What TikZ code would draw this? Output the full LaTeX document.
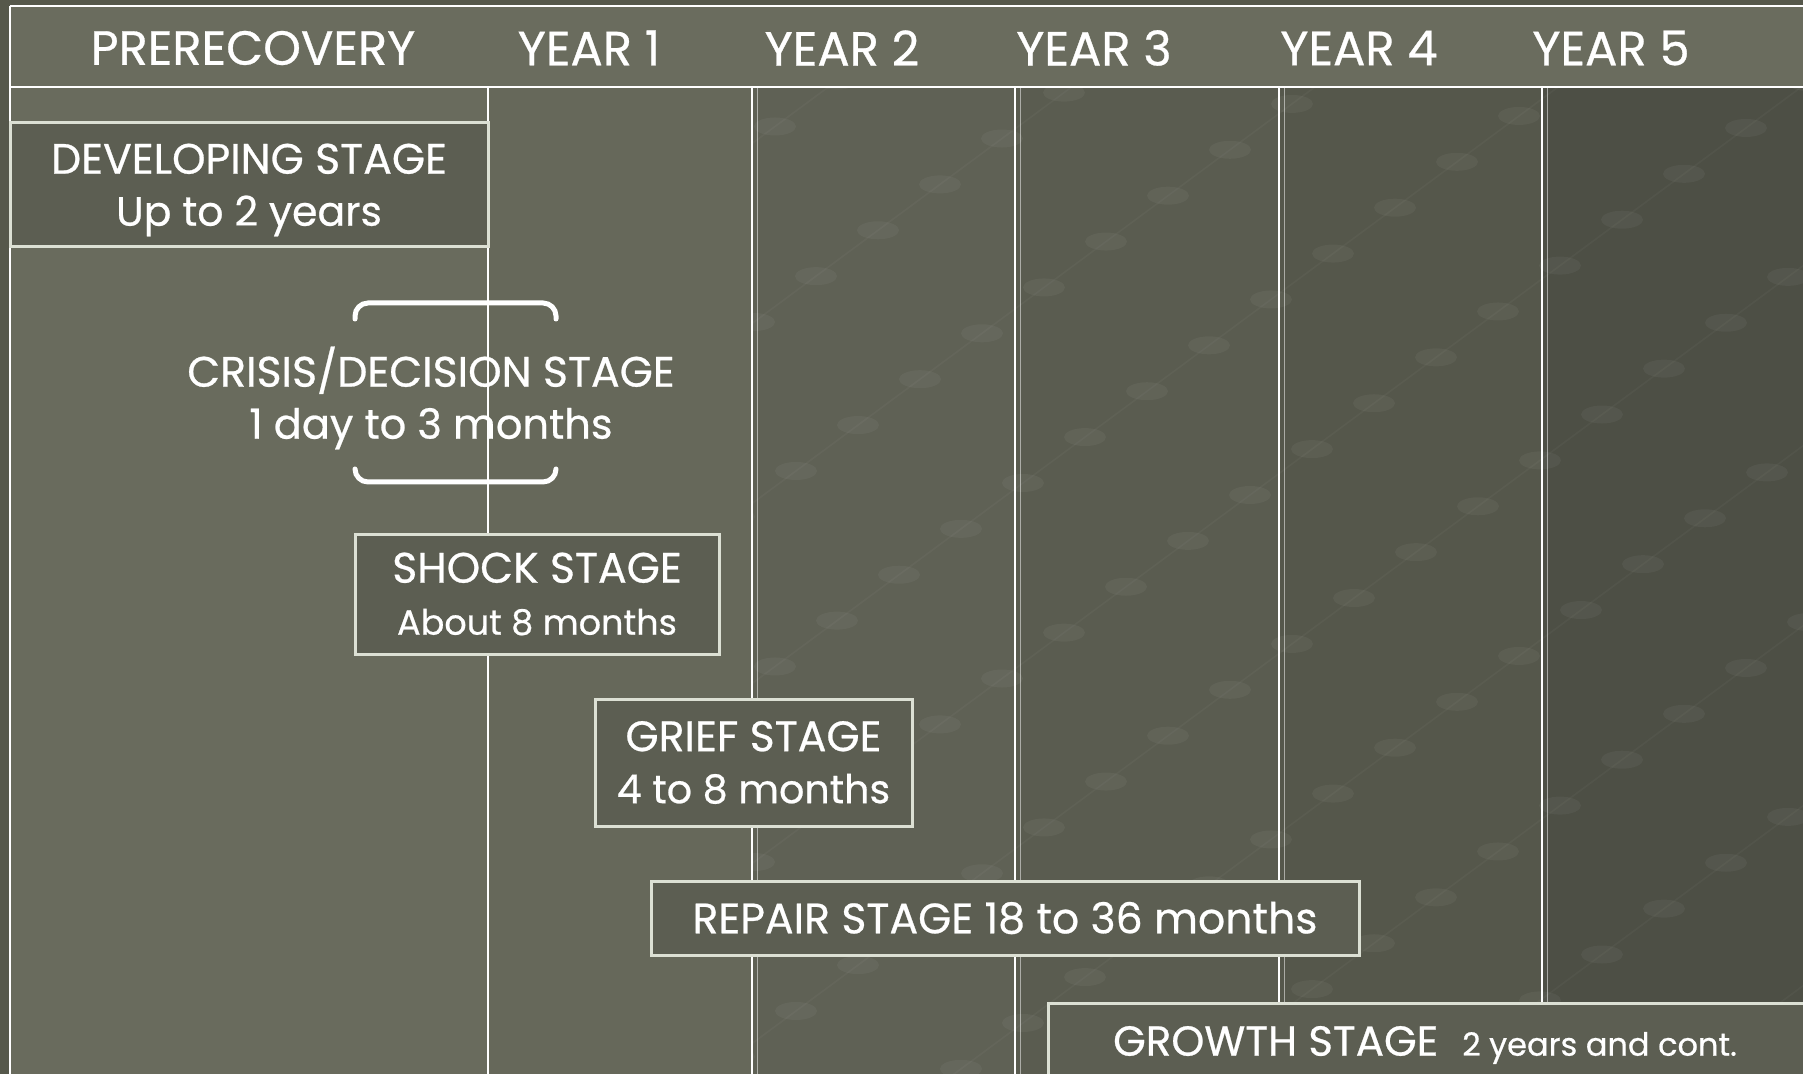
\documentclass[tikz,border=0pt]{standalone}
\usepackage{fontspec}
\setmainfont{Poppins}[UprightFeatures={FakeBold=0.6}]
\definecolor{outerbg}{HTML}{56584B}
\definecolor{headbg}{HTML}{6A6C5E}
\definecolor{precol}{HTML}{696B5D}
\definecolor{boxbg}{HTML}{5C5E52}
\definecolor{boxline}{HTML}{DCE0D4}
\definecolor{colA}{HTML}{66685A}
\definecolor{colB}{HTML}{5F6155}
\definecolor{colC}{HTML}{5A5C50}
\definecolor{colD}{HTML}{55574B}
\definecolor{colE}{HTML}{4D4F45}
\begin{document}
\begin{tikzpicture}[x=0.5pt,y=-0.5pt,
  stagebox/.style={draw=boxline, line width=1.5pt, fill=boxbg, text=white, align=center, inner sep=0pt, font=\fontsize{21.3}{26}\selectfont},
  stagetxt/.style={text=white, align=center, font=\fontsize{21.3}{26}\selectfont},
  yearlbl/.style={text=white, font=\fontsize{24}{28}\selectfont},
  colline/.style={white, line width=1.2pt},
  bracket/.style={white, line width=2.5pt, rounded corners=6.5pt, line cap=round}]
\useasboundingbox (0,0) rectangle (1803,1074);
\fill[outerbg] (0,0) rectangle (1803,1074);
\fill[headbg] (10,6) rectangle (1803,87);
\fill[precol] (10,87) rectangle (488,1074);
\foreach \xa/\xb/\cc in {488/752/colA,752/1015/colB,1015/1279/colC,1279/1542/colD,1542/1803/colE}
  \fill[\cc] (\xa,87) rectangle (\xb,1074);
\begin{scope}
\clip (752,87) rectangle (1803,1074);
\foreach \c [count=\i] in {700,880,...,3100} {
  \draw[white, opacity=.03, line width=.8pt] (1850,\c-1369) -- (600,\c-444);
  \foreach \k in {0,...,19}
    \fill[white, opacity=.045] ({1850-62*\k-mod(\i,3)*21},{\c-0.74*(1850-62*\k-mod(\i,3)*21)}) ellipse [x radius=21, y radius=9];
}
\end{scope}
\draw[colline] (10,6) -- (1803,6);
\draw[colline] (10,6) -- (10,1074);
\draw[colline] (10,87) -- (1803,87);
\draw[colline] (488,87) -- (488,1074);
\foreach \x in {752,1015,1279,1542} {
  \draw[colline] (\x,87) -- (\x,1074);
  \draw[white, opacity=.5, line width=.5pt] (\x+5,87) -- (\x+5,1074);
}
\node[yearlbl] (hpre) at (253,48) {PRERECOVERY};
\node[yearlbl] (hyear1) at (589,48) {YEAR 1};
\node[yearlbl] (hyear2) at (842,48) {YEAR 2};
\node[yearlbl] (hyear3) at (1094,48) {YEAR 3};
\node[yearlbl] (hyear4) at (1359,48) {YEAR 4};
\node[yearlbl] (hyear5) at (1611,48) {YEAR 5};
\node[stagebox, minimum width=239pt, minimum height=62pt] (dev) at (249,185) {};
\node[stagetxt] (devtxt) at (249,190) {DEVELOPING STAGE\\{\fontsize{20.5}{26}\selectfont Up to 2 years}};
\draw[bracket] (355,319) -- (355,303) -- (556,303) -- (556,319);
\draw[bracket] (355,469) -- (355,482) -- (556,482) -- (556,469);
\node[stagetxt] (crisis) at (431,398) {CRISIS/DECISION STAGE\\{\fontsize{20.8}{26}\selectfont 1 day to 3 months}};
\node[stagebox, minimum width=182pt, minimum height=60pt] (shock) at (537,594) {SHOCK STAGE\\{\fontsize{17.5}{20}\selectfont About 8 months}};
\node[stagebox, minimum width=158.5pt, minimum height=63.5pt] (grief) at (753.5,762.5) {GRIEF STAGE\\{\fontsize{19.8}{26}\selectfont 4 to 8 months}};
\node[stagebox, minimum width=354pt, minimum height=37pt] (repair) at (1005,918) {REPAIR STAGE 18 to 36 months};
\node[stagebox, minimum width=400pt, minimum height=50pt, anchor=north west] (growth) at (1047,1002) {};
\node[stagetxt, font=\fontsize{21}{26}\selectfont] (growthtxt) at (1425,1045) {GROWTH STAGE\hspace{12pt}{\fontsize{16}{20}\selectfont 2 years and cont.}};
\end{tikzpicture}
\end{document}
